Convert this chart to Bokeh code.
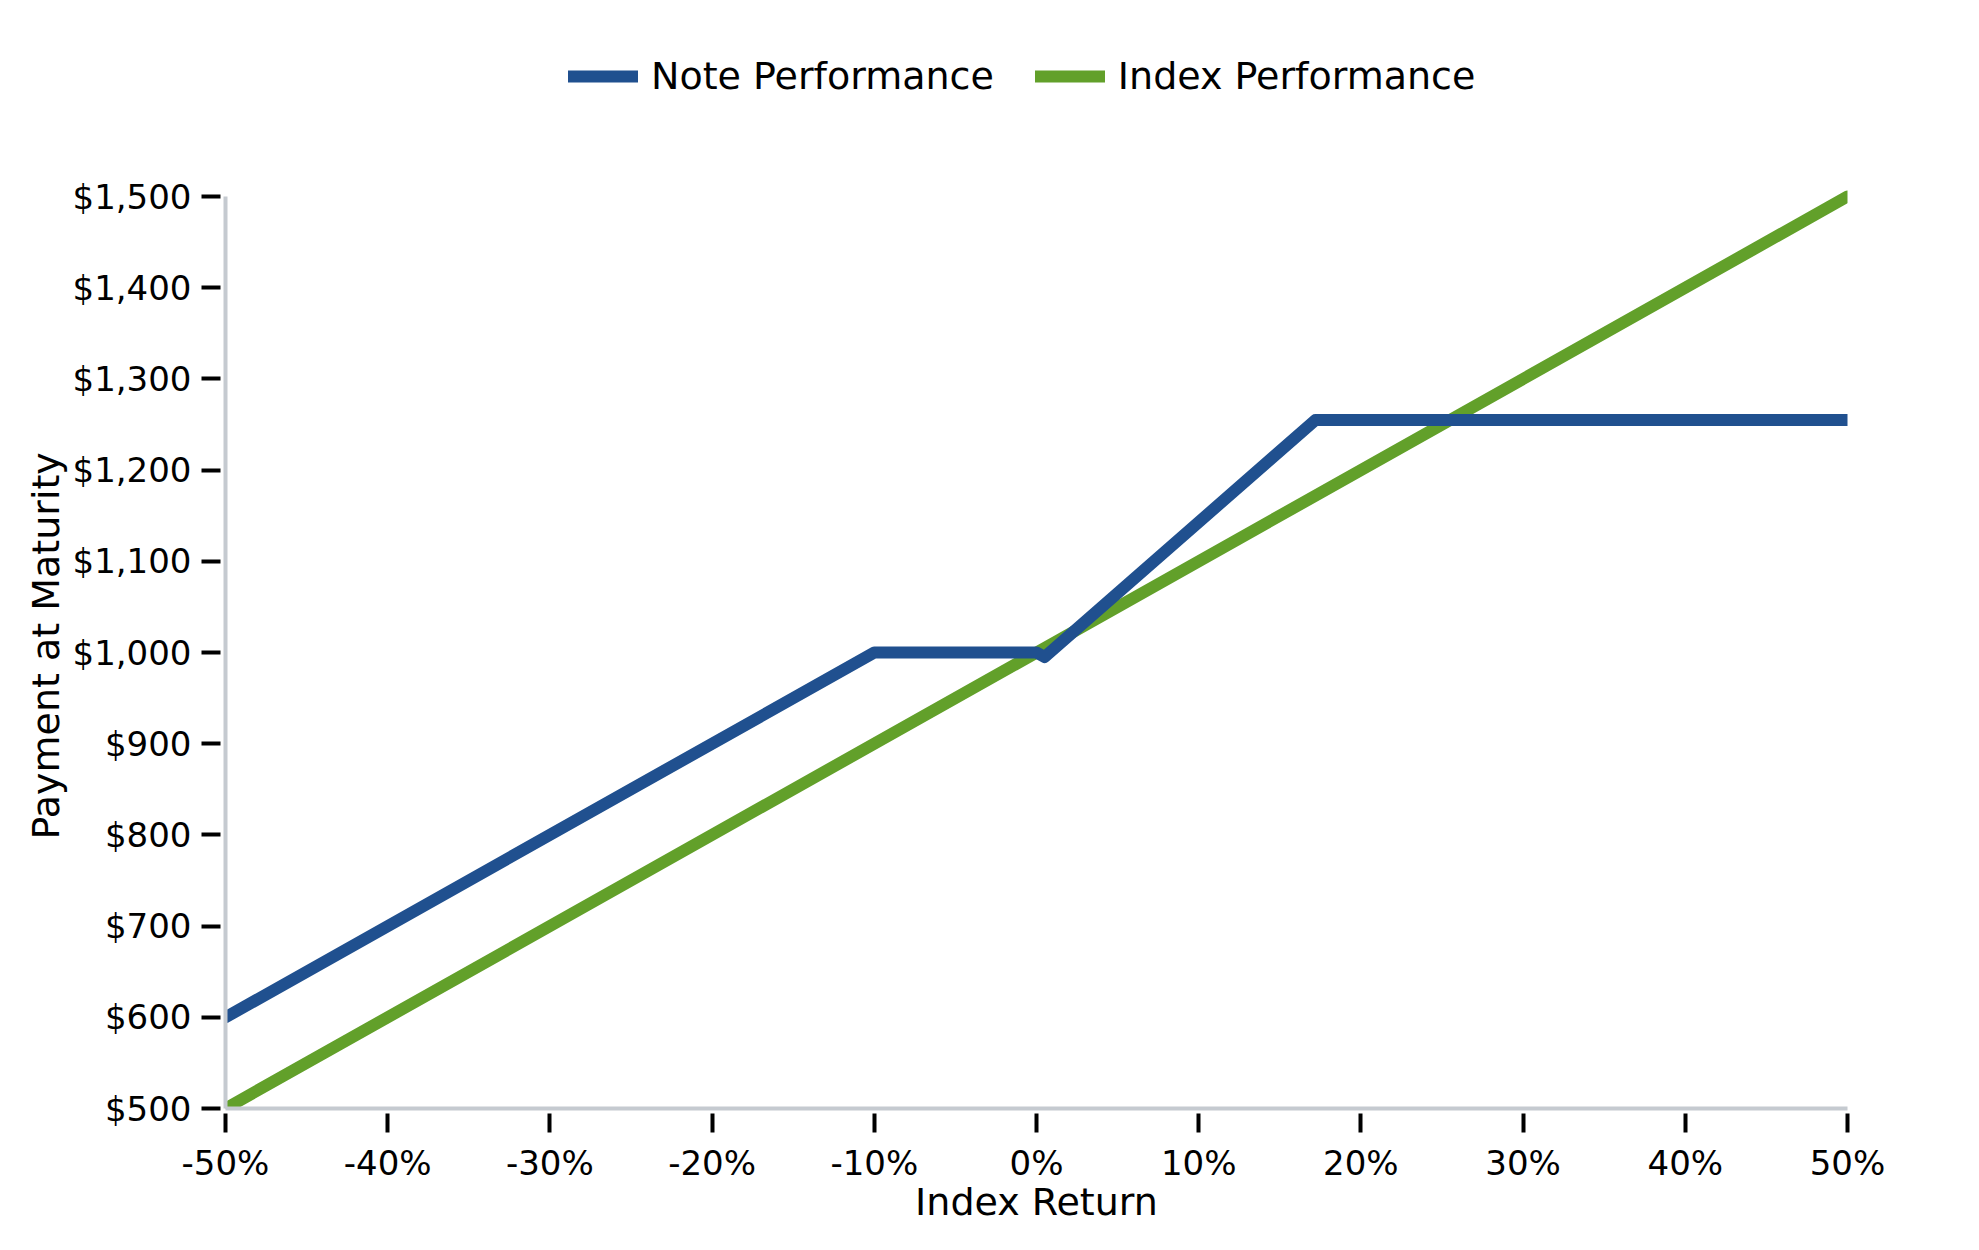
from bokeh.plotting import figure
from bokeh.models import Range1d, NumeralTickFormatter, FixedTicker, Legend, LegendItem, ColumnDataSource, Title
from bokeh.embed import file_html
from bokeh.resources import INLINE

# ---- data ----
index_return = [-0.50, 0.50]
index_payment = [500, 1500]

note_return = [-0.50, -0.10, 0.00, 0.005, 0.172, 0.50]
note_payment = [600, 1000, 1000, 995, 1255, 1255]

x_ticks = [-0.5, -0.4, -0.3, -0.2, -0.1, 0.0, 0.1, 0.2, 0.3, 0.4, 0.5]
y_ticks = [500, 600, 700, 800, 900, 1000, 1100, 1200, 1300, 1400, 1500]

series_names = ["Note Performance", "Index Performance"]
x_title = "Index Return"
y_title = "Payment at Maturity"
blue = "#20508f"
green = "#62a02a"
axis_gray = "#c5cad0"
FONT = "DejaVu Sans"

W, H = 1960, 1240
FRAME_L, FRAME_R, FRAME_T, FRAME_B = 225, 1847, 24, 1108
AXIS_TOP_PX = 196  # where the $1,500 tick sits
y_lo, y_hi = y_ticks[0], y_ticks[-1]
y_end = y_lo + (FRAME_B - FRAME_T) * (y_hi - y_lo) / (FRAME_B - AXIS_TOP_PX)

p = figure(width=W, height=H, output_backend="svg", toolbar_location=None,
           x_range=Range1d(x_ticks[0], x_ticks[-1]), y_range=Range1d(y_lo, y_end),
           min_border_left=FRAME_L, min_border_right=W - FRAME_R,
           min_border_top=FRAME_T, min_border_bottom=H - FRAME_B)
p.outline_line_color = None
p.grid.visible = False
p.background_fill_color = "white"
p.border_fill_color = "white"

idx_src = ColumnDataSource(dict(x=index_return, y=index_payment))
note_src = ColumnDataSource(dict(x=note_return, y=note_payment))

r_idx = p.line("x", "y", source=idx_src, line_color=green, line_width=12,
               line_cap="round", line_join="round")
r_note = p.line("x", "y", source=note_src, line_color=blue, line_width=12,
                line_cap="round", line_join="round")

# axes
for ax in (p.xaxis[0], p.yaxis[0]):
    ax.axis_line_color = axis_gray
    ax.axis_line_width = 4
    ax.major_tick_line_color = "black"
    ax.major_tick_line_width = 4
    ax.major_tick_in = -5
    ax.major_tick_out = 24
    ax.minor_tick_line_color = None
    ax.major_label_text_font = FONT
    ax.major_label_text_font_size = "34px"
    ax.major_label_text_color = "black"
    ax.axis_label_text_font = FONT
    ax.axis_label_text_font_size = "38px"
    ax.axis_label_text_font_style = "normal"
    ax.axis_label_text_color = "black"

p.xaxis[0].ticker = FixedTicker(ticks=x_ticks)
p.xaxis[0].formatter = NumeralTickFormatter(format="0%")
p.xaxis[0].axis_label = x_title
p.xaxis[0].major_label_standoff = 10
p.xaxis[0].axis_label_standoff = -6

p.yaxis[0].ticker = FixedTicker(ticks=y_ticks)
p.yaxis[0].bounds = (y_lo, y_hi)
p.yaxis[0].formatter = NumeralTickFormatter(format="$0,0")
p.yaxis[0].major_label_standoff = 10

# y-axis title, centred on the visible axis (not on the taller frame)
ytitle = Title(text=y_title, align="left", offset=269, standoff=4,
               text_font=FONT, text_font_size="38px", text_font_style="normal",
               text_color="black")
p.add_layout(ytitle, "left")

legend_center_y = 78
legend = Legend(items=[LegendItem(label=series_names[0], renderers=[r_note]),
                       LegendItem(label=series_names[1], renderers=[r_idx])],
                orientation="horizontal",
                location=(343, FRAME_B - legend_center_y - 20),
                border_line_color=None, background_fill_alpha=0,
                padding=0, margin=0, spacing=41,
                glyph_width=70, glyph_height=40, label_height=40,
                label_standoff=13,
                label_text_font=FONT, label_text_font_size="38px",
                label_text_color="black")
p.add_layout(legend, "center")

open("out.html", "w").write(file_html(p, INLINE))
